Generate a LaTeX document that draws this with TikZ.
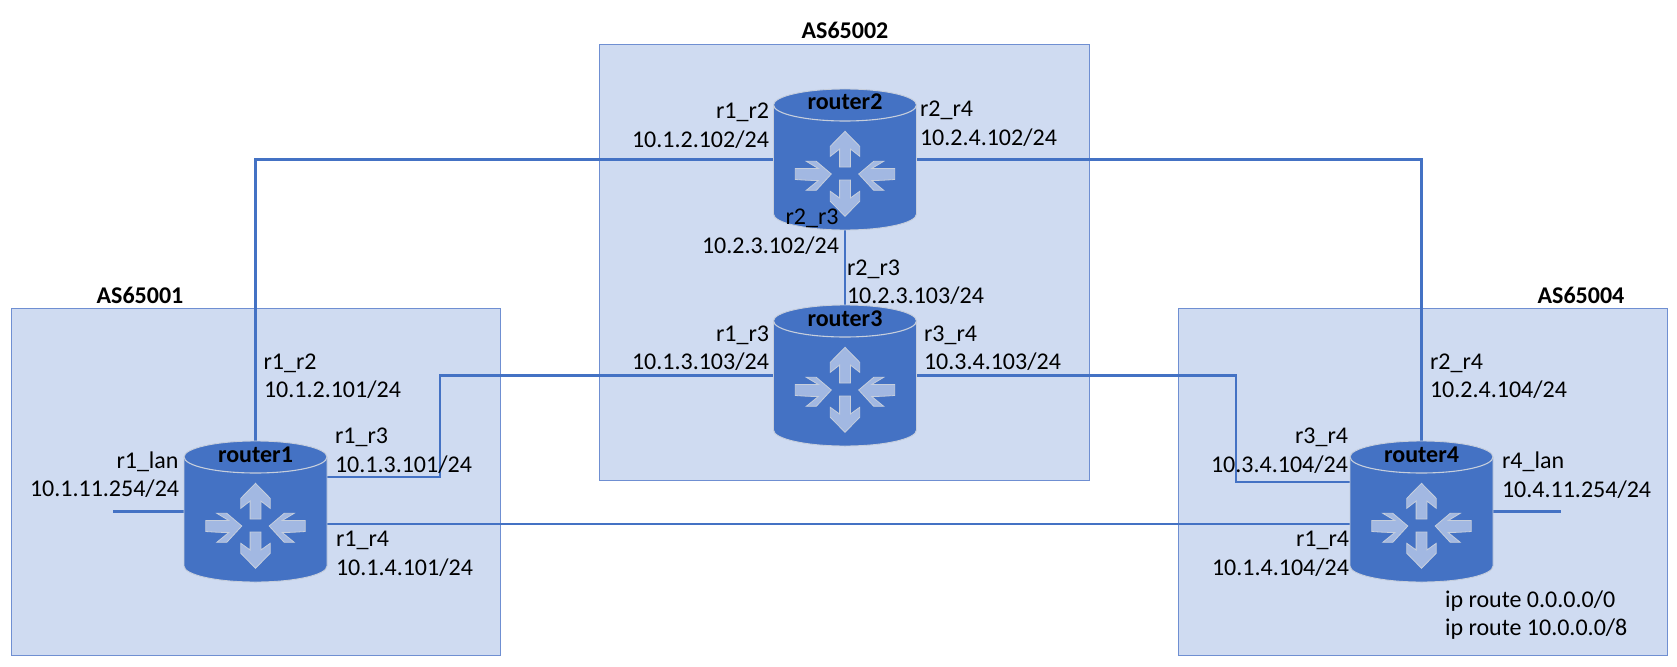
\documentclass[tikz,border=0pt]{standalone}
\usepackage{fontspec}
\setmainfont{Carlito}
\definecolor{boxfill}{HTML}{CFDBF1}
\definecolor{boxline}{HTML}{6F8FD2}
\definecolor{rblue}{HTML}{4472C4}
\definecolor{rarrow}{HTML}{A2B8E2}
\definecolor{redge}{HTML}{C6CEDC}
\tikzset{
  asbox/.style={draw=boxline,fill=boxfill,line width=1.4pt},
  link/.style={draw=rblue,line width=2.1pt},
  lab/.style={anchor=base west,inner sep=0pt,outer sep=0pt,font=\fontsize{24}{28}\selectfont,text=black},
  hdr/.style={anchor=base,inner sep=0pt,outer sep=0pt,font=\fontsize{24}{28}\selectfont\bfseries,text=black},
  rbox/.style={minimum width=143pt,minimum height=141pt,inner sep=0pt,outer sep=0pt},
  rbody/.style={fill=rblue,draw=redge,line width=0.9pt},
  rarr/.style={fill=rarrow,draw=redge,line width=0.8pt,line join=miter},
}
\newcommand{\routerdraw}[4]{% name, cx, cy, text
  \begin{scope}[shift={(#2,#3)}]
    \path[rbody] (-71.5,-54.5) arc[start angle=180,end angle=360,x radius=71.5,y radius=16]
      -- (71.5,54.5) arc[start angle=0,end angle=180,x radius=71.5,y radius=16] -- cycle;
    \draw[redge,line width=1.1pt] (-71.5,-54.5) arc[start angle=180,end angle=0,x radius=71.5,y radius=16];
    \node[hdr] (#1t) at (0,-49.5) {#4};
    \begin{scope}[shift={(0,14.5)}]
      \path[rarr] (0,-42.7) -- (14.7,-27.7) -- (14.7,-17.7) -- (5.4,-25) -- (5.4,-7) -- (-5.4,-7) -- (-5.4,-25) -- (-14.7,-17.7) -- (-14.7,-27.7) -- cycle;
      \path[rarr] (0,42.3) -- (14.7,27.3) -- (14.7,17.3) -- (5.4,24) -- (5.4,6) -- (-5.4,6) -- (-5.4,24) -- (-14.7,17.3) -- (-14.7,27.3) -- cycle;
      \path[rarr] (-13.7,0) -- (-28.7,16.3) -- (-38.7,16.3) -- (-26.7,6.5) .. controls (-35,6.5) and (-42,6) .. (-49.7,5.5) -- (-49.7,-5.5) .. controls (-42,-5.5) and (-35,-5.5) .. (-26.7,-5.5) -- (-38.7,-12.7) -- (-28.7,-12.7) -- cycle;
      \path[rarr] (13.7,0) -- (28.7,16.3) -- (38.7,16.3) -- (26.7,6.5) .. controls (35,6.5) and (42,6) .. (49.7,5.5) -- (49.7,-5.5) .. controls (42,-5.5) and (35,-5.5) .. (26.7,-5.5) -- (38.7,-12.7) -- (28.7,-12.7) -- cycle;
    \end{scope}
  \end{scope}
}
\begin{document}
\begin{tikzpicture}[x=1pt,y=-1pt]
\useasboundingbox (0,0) rectangle (1677,666);
\fill[white] (0,0) rectangle (1677,666);
% AS boxes
\node[asbox,anchor=north west,minimum width=489pt,minimum height=347pt,inner sep=0pt] (as1) at (11,308) {};
\node[asbox,anchor=north west,minimum width=490pt,minimum height=436pt,inner sep=0pt] (as2) at (599,44) {};
\node[asbox,anchor=north west,minimum width=489pt,minimum height=347pt,inner sep=0pt] (as4) at (1177.5,308) {};
\node[hdr] (h1) at (140,303) {AS65001};
\node[hdr] (h2) at (845,39) {AS65002};
\node[hdr] (h4) at (1581,303) {AS65004};
% router nodes first, connectors below the router drawings
\node[rbox] (r1) at (255.5,511.5) {};
\node[rbox] (r2) at (845,159.5) {};
\node[rbox] (r3) at (845,375.5) {};
\node[rbox] (r4) at (1421.5,511.5) {};
\coordinate (j13) at (440,375.5);
\coordinate (j34) at (1236,375.5);
\coordinate (lan1) at (113,511.5);
\coordinate (lan4) at (1561,511.5);
\draw[link] (r1.north) |- (r2.west);
\draw[link] (r2.east) -| (r4.north);
\draw[link] (r2.south) -- (r3.north);
\draw[link] ([yshift=34.5pt]r1.east) -| (j13) -- (r3.west);
\draw[link] (r3.east) -- (j34) |- ([yshift=29.5pt]r4.west);
\draw[link] ([yshift=-12.5pt]r1.east) -- ([yshift=-12.5pt]r4.west);
\draw[link] (lan1) -- (r1.west);
\draw[link] (r4.east) -- (lan4);
\routerdraw{r1}{255.5}{511.5}{router1}
\routerdraw{r2}{845}{159.5}{router2}
\routerdraw{r3}{845}{375.5}{router3}
\routerdraw{r4}{1421.5}{511.5}{router4}
% labels
\node[lab] (a1) at (116.5,468) {r1\_lan};
\node[lab] (a2) at (30,496) {10.1.11.254/24};
\node[lab] (a3) at (263.5,369) {r1\_r2};
\node[lab] (a4) at (264,397.5) {10.1.2.101/24};
\node[lab] (a5) at (335,443) {r1\_r3};
\node[lab] (a6) at (335,472) {10.1.3.101/24};
\node[lab] (a7) at (336,546) {r1\_r4};
\node[lab] (a8) at (336,575) {10.1.4.101/24};
\node[lab] (b1) at (716,118) {r1\_r2};
\node[lab] (b2) at (632,147) {10.1.2.102/24};
\node[lab] (b3) at (920,116.5) {r2\_r4};
\node[lab] (b4) at (920,145) {10.2.4.102/24};
\node[lab] (b5) at (785.5,224) {r2\_r3};
\node[lab] (b6) at (702,253) {10.2.3.102/24};
\node[lab] (b7) at (847,275) {r2\_r3};
\node[lab] (b8) at (847,303.5) {10.2.3.103/24};
\node[lab] (b9) at (716,341) {r1\_r3};
\node[lab] (b10) at (632,369.5) {10.1.3.103/24};
\node[lab] (b11) at (924,341) {r3\_r4};
\node[lab] (b12) at (924,369.5) {10.3.4.103/24};
\node[lab] (c1) at (1430,369) {r2\_r4};
\node[lab] (c2) at (1430,397.5) {10.2.4.104/24};
\node[lab] (c3) at (1295,443) {r3\_r4};
\node[lab] (c4) at (1211,472) {10.3.4.104/24};
\node[lab] (c5) at (1296,546) {r1\_r4};
\node[lab] (c6) at (1212,575) {10.1.4.104/24};
\node[lab] (c7) at (1502,468) {r4\_lan};
\node[lab] (c8) at (1502,497) {10.4.11.254/24};
\node[lab] (c9) at (1445,607) {ip route 0.0.0.0/0};
\node[lab] (c10) at (1445,635) {ip route 10.0.0.0/8};
\end{tikzpicture}
\end{document}
